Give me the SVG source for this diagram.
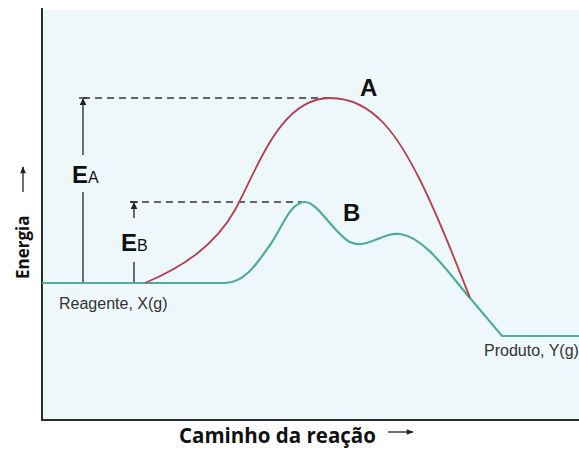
<svg xmlns="http://www.w3.org/2000/svg" width="579" height="450" viewBox="0 0 579 450">
<defs>
<style>
.axis{stroke:#2b2b2b;stroke-width:2;fill:none}
.dash{stroke:#333;stroke-width:1.3;stroke-dasharray:7,5;fill:none}
.dim{stroke:#222;stroke-width:1.3;fill:none}
.teal{stroke:#4fae98;stroke-width:2.2;fill:none}
.red{stroke:#b5404e;stroke-width:1.8;fill:none}
.lbl{font-family:"Liberation Sans",Arial,sans-serif;fill:#111;font-weight:bold}
.sm{font-family:"Liberation Sans",Arial,sans-serif;fill:#333;font-size:16px}
.ax{font-family:"Open Sans",sans-serif;font-weight:bold;fill:#111}
</style>
<marker id="ah" viewBox="0 0 10 10" refX="9" refY="5" markerWidth="7" markerHeight="7" markerUnits="userSpaceOnUse" orient="auto">
<path d="M0,0 L10,5 L0,10 z" fill="#222"/>
</marker>
<marker id="ah2" viewBox="0 0 10 10" refX="9" refY="5" markerWidth="9" markerHeight="7" markerUnits="userSpaceOnUse" orient="auto">
<path d="M0,1 L10,5 L0,9 z" fill="#222"/>
</marker>
</defs>
<rect width="579" height="450" fill="#ffffff"/>
<rect x="42" y="10" width="537" height="410" fill="#eef7fa"/>
<g id="axes">
<line class="axis" x1="42" y1="8" x2="42" y2="421"/>
<line class="axis" x1="41" y1="420" x2="579" y2="420"/>
</g>
<g id="connectors">
<line class="dash" x1="83" y1="98" x2="330" y2="98"/>
<line class="dash" x1="130" y1="202" x2="302" y2="202"/>
<line class="dim" x1="79" y1="98" x2="87" y2="98"/>
<line class="dim" x1="83" y1="155" x2="83" y2="99" marker-end="url(#ah)"/>
<line class="dim" x1="83" y1="192" x2="83" y2="283"/>
<line class="dim" x1="130" y1="202" x2="138" y2="202"/>
<line class="dim" x1="134" y1="218" x2="134" y2="203" marker-end="url(#ah)"/>
<line class="dim" x1="134" y1="262" x2="134" y2="283"/>
</g>
<g id="curveB">
<path class="teal" d="M42,283 H225 C245,283 258,262 270,245 C282,228 290,202 305,202 C318,202 335,235 350,242 C358,246 365,244 375,240 C385,236 392,233 400,234 C425,237 450,275 470,298 L502,336 H579"/>
</g>
<g id="curveA">
<path class="red" d="M145,283 C185,266 215,245 235,210 C258,168 280,98 330,98 C375,98 400,140 420,180 C440,220 455,260 470,298"/>
</g>
<g id="labels">
<text class="lbl" x="360" y="96" font-size="24">A</text>
<text class="lbl" x="343" y="221" font-size="24">B</text>
<text class="lbl" x="72" y="183" font-size="24">E<tspan font-size="16" font-weight="normal">A</tspan></text>
<text class="lbl" x="121" y="251" font-size="24">E<tspan font-size="16" font-weight="normal">B</tspan></text>
<text class="sm" x="59" y="309">Reagente, X(g)</text>
<text class="sm" x="484" y="356">Produto, Y(g)</text>
</g>
<g id="axis-labels">
<text class="ax" font-size="17" transform="translate(29,279) rotate(-90)">Energia</text>
<line class="dim" x1="23" y1="192" x2="23" y2="167" marker-end="url(#ah2)"/>
<text class="ax" x="179" y="443" font-size="20.5">Caminho da reação</text>
<line class="dim" x1="388" y1="432" x2="413" y2="432" marker-end="url(#ah2)"/>
</g>
</svg>
